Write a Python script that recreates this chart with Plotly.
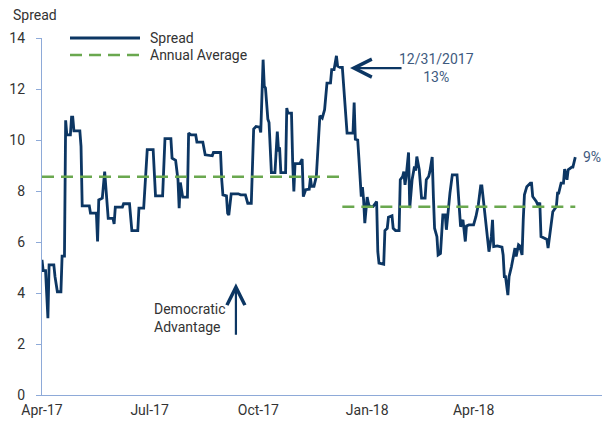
import pandas as pd
import plotly.graph_objects as go

# Daily spread series: days elapsed since 2017-04-01 and spread value (pts)
START = pd.Timestamp("2017-04-01")
spread_days = [
    0, 1, 3, 5, 6, 10, 11, 13, 16, 17, 19, 20, 21, 24, 25, 26, 27, 32, 33, 34,
    40, 41, 46, 47, 48, 51, 53, 54, 56, 60, 61, 62, 68, 69, 74, 76, 81, 82, 86, 89,
    94, 96, 102, 104, 109, 110, 113, 115, 116, 117, 119, 123, 124, 126, 130, 131, 136, 138, 144, 145,
    151, 152, 153, 156, 157, 158, 160, 166, 168, 172, 174, 177, 179, 181, 184, 185, 187, 188, 189, 191,
    192, 194, 197, 199, 200, 201, 202, 206, 207, 208, 211, 212, 213, 214, 218, 220, 221, 223, 226, 227,
    228, 230, 232, 235, 237, 239, 241, 244, 245, 247, 249, 250, 252, 254, 256, 258, 263, 264, 265, 267,
    268, 269, 270, 271, 272, 273, 275, 276, 277, 280, 283, 284, 285, 289, 290, 292, 293, 296, 297, 299,
    302, 303, 305, 306, 307, 308, 310, 311, 313, 315, 316, 317, 319, 321, 324, 325, 327, 328, 330, 331,
    332, 334, 335, 337, 339, 341, 342, 345, 347, 351, 353, 354, 356, 358, 359, 361, 365, 367, 369, 371,
    372, 373, 375, 377, 378, 380, 381, 382, 385, 389, 390, 391, 392, 394, 395, 397, 399, 400, 401, 403,
    404, 406, 407, 408, 410, 413, 414, 415, 418, 420, 421, 422, 425, 427, 428, 430, 431, 432, 435, 436,
    437, 439, 441, 442, 444, 445, 448, 449, 451,
]
spread_values = [
    5.30, 4.88, 4.88, 3.01, 5.10, 5.10, 4.64, 4.05, 4.05, 5.45, 5.45, 10.77, 10.20, 10.20, 10.90, 10.90, 10.36, 10.36, 9.75, 7.42,
    7.42, 7.13, 7.13, 6.02, 7.65, 7.72, 8.76, 8.17, 6.93, 6.93, 6.71, 7.37, 7.37, 7.50, 7.50, 6.45, 6.45, 7.33, 7.33, 9.62,
    9.62, 7.81, 7.81, 10.05, 10.05, 9.29, 9.20, 8.44, 7.33, 8.33, 7.76, 7.76, 10.27, 10.20, 10.20, 9.92, 9.92, 9.42, 9.38, 9.51,
    9.51, 8.44, 7.85, 7.81, 7.13, 7.06, 7.89, 7.89, 7.85, 7.85, 7.52, 7.52, 10.43, 10.53, 10.50, 10.30, 13.15, 12.10, 12.04, 10.82,
    10.69, 8.72, 8.72, 10.33, 9.62, 9.64, 8.72, 8.72, 11.25, 11.05, 11.05, 9.12, 7.98, 9.07, 9.07, 9.25, 7.78, 8.05, 8.07, 8.50,
    8.18, 8.18, 8.57, 10.95, 10.86, 11.19, 12.23, 12.24, 12.76, 12.76, 13.30, 12.90, 12.85, 12.85, 11.60, 10.27, 10.27, 11.47, 10.03, 10.00,
    9.29, 8.31, 7.78, 8.15, 7.65, 6.74, 7.76, 7.52, 7.39, 7.39, 7.59, 5.62, 5.17, 5.13, 6.45, 6.54, 6.97, 7.03, 6.54, 6.45,
    6.45, 8.44, 8.57, 8.76, 8.24, 8.57, 9.51, 7.33, 8.44, 8.96, 8.80, 9.35, 8.85, 7.72, 7.72, 8.44, 8.57, 8.76, 9.33, 7.78,
    6.54, 6.21, 5.49, 5.55, 7.06, 7.06, 6.48, 7.92, 8.63, 8.63, 7.39, 6.60, 6.87, 6.02, 6.63, 6.67, 6.67, 7.00, 7.46, 8.20,
    8.20, 7.78, 6.87, 6.08, 5.62, 6.21, 6.87, 5.82, 5.85, 5.80, 5.49, 4.64, 4.64, 3.92, 4.64, 5.03, 5.56, 5.76, 5.43, 5.89,
    5.85, 5.49, 6.87, 7.85, 8.17, 8.31, 8.31, 7.78, 7.59, 7.39, 7.55, 6.21, 6.15, 6.10, 5.76, 6.48, 7.06, 7.19, 7.39, 7.92,
    7.92, 8.31, 8.31, 8.86, 8.44, 8.83, 8.94, 8.94, 9.33,
]

# Annual averages: each period's start/end day and its mean spread
avg_periods = [(0, 254), (254, 451)]
avg_values = [8.56, 7.38]

# Quarterly axis ticks
tick_dates = ["2017-04-01", "2017-07-01", "2017-10-01", "2018-01-01", "2018-04-01"]
tick_labels = ["Apr-17", "Jul-17", "Oct-17", "Jan-18", "Apr-18"]

NAVY = "#0c3663"
GREEN = "#6aa84f"
AXIS = "#8eaad8"
TEXT = "#333333"
NOTE = "#3e5a7e"
FONT = "Roboto, Arial, sans-serif"
AVG_DASH = "12px,7px"


def to_date(d):
    return START + pd.Timedelta(days=d)


dates = [to_date(d) for d in spread_days]

fig = go.Figure()
fig.add_trace(go.Scatter(
    x=dates, y=spread_values, mode="lines", name="Spread",
    line=dict(color=NAVY, width=2.8),
))
for (d0, d1), v in zip(avg_periods, avg_values):
    fig.add_trace(go.Scatter(
        x=[to_date(d0), to_date(d1)], y=[v, v], mode="lines",
        name="Annual Average",
        line=dict(color=GREEN, width=2.6, dash=AVG_DASH),
    ))

peak_i = max(range(len(spread_values)), key=lambda k: spread_values[k])
peak_day = spread_days[peak_i]
peak_val = spread_values[peak_i]
last_val = spread_values[-1]

# Compact key in the top-left corner (keys drawn as paper-anchored samples)
legend_items = [("Spread", NAVY, "solid", 2.8), ("Annual Average", GREEN, AVG_DASH, 2.6)]
key_x0, key_x1, key_text_x = 0.050, 0.175, 0.189
key_y, key_step = 1.0, 0.0476
shapes = []
annotations = []
for k, (label, color, dash, width) in enumerate(legend_items):
    yk = key_y - k * key_step
    shapes.append(dict(type="line", xref="paper", yref="paper",
                       x0=key_x0, x1=key_x1, y0=yk, y1=yk,
                       line=dict(color=color, width=width, dash=dash)))
    annotations.append(dict(xref="paper", yref="paper", x=key_text_x, y=yk,
                            xanchor="left", yanchor="middle", text=label, showarrow=False,
                            font=dict(size=14, color=TEXT, family=FONT)))

annotations += [
    # y-axis caption
    dict(xref="paper", yref="paper", x=-0.056, y=1.064, xanchor="left", yanchor="middle",
         text="Spread", showarrow=False, font=dict(size=14, color=TEXT, family=FONT)),
    # peak callout arrow + label
    dict(x=to_date(peak_day + 11.5), y=peak_val - 0.48, text="", showarrow=True,
         ax=53, ay=0, arrowhead=5, arrowsize=1.6, arrowwidth=2.2, arrowcolor=NAVY,
         standoff=0),
    dict(x=to_date(peak_day + 85), y=peak_val - 0.48, xanchor="center", yanchor="middle",
         text=f"12/31/2017<br>{round(peak_val)}%", showarrow=False,
         font=dict(size=14, color=NOTE, family=FONT)),
    # direction note
    dict(x=to_date(93), y=3.02, xanchor="left", yanchor="middle", align="left",
         text="Democratic<br>Advantage", showarrow=False,
         font=dict(size=14, color=TEXT, family=FONT)),
    dict(x=to_date(164), y=4.38, text="", showarrow=True,
         ax=0, ay=53, arrowhead=5, arrowsize=1.6, arrowwidth=2.2, arrowcolor=NAVY,
         standoff=0),
    # latest value
    dict(x=to_date(spread_days[-1] + 5), y=last_val, xanchor="left", yanchor="middle",
         text=f"{round(last_val)}%", showarrow=False,
         font=dict(size=14, color=NOTE, family=FONT)),
]

fig.update_layout(
    width=611, height=424,
    margin=dict(l=42, r=9, t=38, b=29),
    paper_bgcolor="white", plot_bgcolor="white",
    font=dict(family=FONT, size=14, color=TEXT),
    showlegend=False,
    shapes=shapes,
    annotations=annotations,
    xaxis=dict(
        type="date", range=[to_date(0), to_date(473.6)],
        tickvals=tick_dates, ticktext=tick_labels,
        showline=True, linecolor=AXIS, linewidth=1.2,
        ticks="", showgrid=False, zeroline=False,
        ticklabelstandoff=2, automargin=False,
        tickfont=dict(size=14, color=TEXT, family=FONT),
    ),
    yaxis=dict(
        range=[0, 14], dtick=2, tick0=0,
        showline=True, linecolor=AXIS, linewidth=1.2,
        ticks="outside", ticklen=5, tickcolor=AXIS, tickwidth=1.2,
        ticklabelstandoff=8, automargin=False,
        showgrid=False, zeroline=False,
        tickfont=dict(size=14, color=TEXT, family=FONT),
    ),
)

fig.write_html("out.html")
